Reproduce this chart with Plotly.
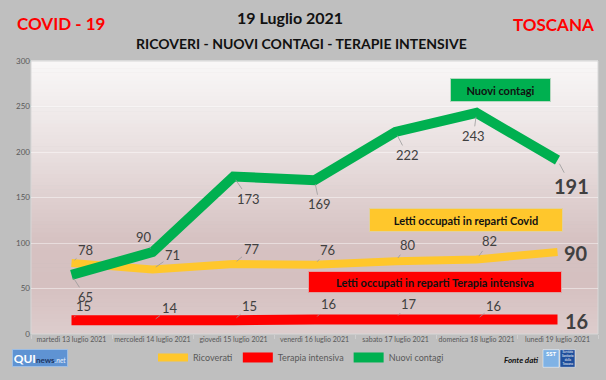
import plotly.graph_objects as go

# ---------------- data ----------------
giorni = ["martedì 13 luglio 2021", "mercoledì 14 luglio 2021", "giovedì 15 luglio 2021",
          "venerdì 16 luglio 2021", "sabato 17 luglio 2021", "domenica 18 luglio 2021",
          "lunedì 19 luglio 2021"]
ricoverati = [78, 71, 77, 76, 80, 82, 90]
terapia_intensiva = [15, 14, 15, 16, 17, 16, 16]
nuovi_contagi = [65, 90, 173, 169, 222, 243, 191]
y_ticks = [0, 50, 100, 150, 200, 250, 300]

# ---------------- styling ----------------
W, H = 606, 380
L, R, T, B = 31, 8, 61, 40
PW, PH = W - L - R, H - T - B
FONT = "Lato, 'Open Sans', sans-serif"
C_YEL, C_RED, C_GRN = "#FFC72C", "#FF0000", "#00B050"
LBL = "#404040"


def px(x):
    return (x - L) / PW


def py(y):
    return (H - B - y) / PH


fig = go.Figure()
fig.add_trace(go.Scatter(x=giorni, y=ricoverati, name="Ricoverati", mode="lines",
                         line=dict(color=C_YEL, width=8)))
fig.add_trace(go.Scatter(x=giorni, y=terapia_intensiva, name="Terapia intensiva", mode="lines",
                         line=dict(color=C_RED, width=10)))
fig.add_trace(go.Scatter(x=giorni, y=nuovi_contagi, name="Nuovi contagi", mode="lines",
                         line=dict(color=C_GRN, width=10)))

# background gradient of the plot area (styling only)
stops = [(0.0, (221, 205, 205)), (0.18, (213, 192, 192)), (0.35, (214, 194, 194)),
         (0.65, (232, 222, 222)), (1.0, (249, 248, 248))]


def col_at(t):
    for (t0, c0), (t1, c1) in zip(stops[:-1], stops[1:]):
        if t0 <= t <= t1:
            f = (t - t0) / (t1 - t0)
            return "rgb(%d,%d,%d)" % tuple(round(a + (b - a) * f) for a, b in zip(c0, c1))
    return "rgb(%d,%d,%d)" % stops[-1][1]


shapes = []
N = 70
for i in range(N):
    y0, y1 = i / N, (i + 1) / N
    shapes.append(dict(type="rect", xref="paper", yref="paper", x0=0, x1=1, y0=y0, y1=y1 + 0.002,
                       fillcolor=col_at((y0 + y1) / 2), line=dict(width=0), layer="below"))
shapes.append(dict(type="rect", xref="paper", yref="paper", x0=0, x1=1, y0=0, y1=1,
                   line=dict(color="#d8d8d8", width=1), layer="below"))
# SST logo blocks
shapes.append(dict(type="rect", xref="paper", yref="paper", x0=px(543), x1=px(559), y0=py(374), y1=py(356),
                   fillcolor="#7fb2e5", line=dict(color="#ffffff", width=0.5)))
shapes.append(dict(type="rect", xref="paper", yref="paper", x0=px(560), x1=px(575), y0=py(374), y1=py(356),
                   fillcolor="#1f4f9c", line=dict(color="#ffffff", width=0.5)))

ann = []
# titles
ann.append(dict(text="<b>19 Luglio 2021</b>", x=px(290), y=py(17), font=dict(size=16, color="#111111")))
ann.append(dict(text="<b>RICOVERI - NUOVI CONTAGI - TERAPIE INTENSIVE</b>", x=px(301), y=py(43),
                font=dict(size=14, color="#111111")))
ann.append(dict(text="<b>COVID - 19</b>", x=px(61), y=py(23), font=dict(size=17, color="#FF0000")))
ann.append(dict(text="<b>TOSCANA</b>", x=px(553), y=py(24), font=dict(size=17, color="#FF0000")))

# coloured boxes
ann.append(dict(text="<b>Nuovi contagi</b>", x=px(500), y=py(91), bgcolor=C_GRN, width=97, height=20,
                bordercolor="#b5d8c0", borderwidth=1, borderpad=1, font=dict(size=11, color="#111111")))
ann.append(dict(text="<b>Letti occupati in reparti Covid</b>", x=px(466), y=py(223), bgcolor="#FFC72C",
                width=190, height=20, bordercolor="#e0d0a0", borderwidth=1, borderpad=1,
                font=dict(size=11, color="#111111")))
ann.append(dict(text="<b>Letti occupati in reparti Terapia intensiva</b>", x=px(435), y=py(287),
                bgcolor="#FF0000", width=250, height=18, bordercolor="#e0a0a0", borderwidth=1, borderpad=1,
                font=dict(size=11, color="#111111")))

# data labels (offsets in pixels from each point)
off_grn = [(14, 22), (-9, -15), (15, 22), (5, 24), (12, 23), (-3, 23), (14, 26)]
off_yel = [(14, -13), (20, -14), (18, -15), (13, -15), (12, -16), (13, -18), (18, 1)]
off_red = [(12, -14), (17, -13), (16, -14), (14, -15), (13, -15), (17, -13), (19, 2)]

for vals, offs in ((nuovi_contagi, off_grn), (ricoverati, off_yel), (terapia_intensiva, off_red)):
    n = len(vals)
    for i, (g, v) in enumerate(zip(giorni, vals)):
        ax, ay = offs[i]
        last = i == n - 1
        big = dict(size=20, color=LBL) if last else dict(size=13, color=LBL)
        txt = "<b>%d</b>" % v if last else "%d" % v
        if last and vals is not nuovi_contagi:
            ann.append(dict(text=txt, x=g, y=v, xref="x", yref="y", showarrow=False,
                            xshift=ax, yshift=-ay, font=big))
        else:
            ann.append(dict(text=txt, x=g, y=v, xref="x", yref="y", showarrow=True, ax=ax, ay=ay,
                            arrowhead=0, arrowwidth=0.8, arrowcolor="#9a9a9a", standoff=4,
                            font=big))

# logos / source
ann.append(dict(text="<b><span style='font-size:12px;color:#ffffff'>QUI</span>"
                     "<span style='font-size:8px;color:#1d3461'>news</span></b>"
                     "<i><span style='font-size:7px;color:#e4eefa'>.net</span></i>",
                x=px(40), y=py(364.5), bgcolor="#5f93d3", bordercolor="#9dbde3", borderwidth=1,
                borderpad=1, width=52, height=14))
ann.append(dict(text="<b><i>Fonte dati</i></b>", x=px(521), y=py(367), font=dict(size=8, color="#111111")))
ann.append(dict(text="<b>SST</b>", x=px(551), y=py(360), font=dict(size=6, color="#ffffff")))
ann.append(dict(text="Servizio<br>Sanitario<br>della<br>Toscana", x=px(567.5), y=py(365),
                font=dict(size=3, color="#ffffff")))

for a in ann:
    a.setdefault("xref", "paper")
    a.setdefault("yref", "paper")
    a.setdefault("showarrow", False)
    a.setdefault("font", dict(size=11, color=LBL))
    a.setdefault("xanchor", "center")
    a.setdefault("yanchor", "middle")

fig.update_layout(
    width=W, height=H,
    margin=dict(l=L, r=R, t=T, b=B),
    paper_bgcolor="#bfbfbf",
    plot_bgcolor="rgba(0,0,0,0)",
    font=dict(family=FONT, color="#595959"),
    shapes=shapes,
    annotations=ann,
    showlegend=True,
    legend=dict(orientation="h", x=px(301), xanchor="center", y=py(364), yanchor="middle",
                font=dict(size=9, color="#595959"), bgcolor="rgba(0,0,0,0)",
                itemwidth=30, tracegroupgap=0),
    xaxis=dict(type="category", range=[-0.5, len(giorni) - 0.5], showgrid=False, ticks="outside",
               tickson="boundaries", tickcolor="#cfcfcf", ticklen=4, tickfont=dict(size=7, color="#595959"),
               showline=False, zeroline=False, tickangle=0, fixedrange=True, automargin=False),
    yaxis=dict(range=[0, 300], tickvals=y_ticks, showgrid=True, gridcolor="rgba(255,255,255,0.45)",
               gridwidth=1, zeroline=False, showline=False, tickfont=dict(size=8, color="#595959"),
               ticks="", ticklen=0, fixedrange=True, automargin=False),
)

fig.write_html("out.html", config={"displayModeBar": False, "staticPlot": True},
               post_script="document.body.style.margin='0';document.body.style.overflow='hidden';")
